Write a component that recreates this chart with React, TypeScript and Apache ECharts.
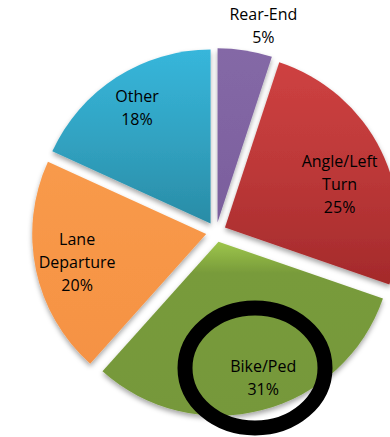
import React, { useEffect, useRef } from "react";
import * as echarts from "echarts";

const categories = ["Rear-End", "Angle/Left Turn", "Bike/Ped", "Lane Departure", "Other"];
const values = [5, 25, 31, 20, 18];

const gradients: [string, string, string][] = [
  ["#8468A6", "#8064A2", "#7A5E9C"],
  ["#CE4141", "#BC3838", "#A42A2B"],
  ["#9EC64C", "#789B3A", "#76983A"],
  ["#F89A4C", "#F79646", "#F59244"],
  ["#37B6DB", "#31A3C2", "#2A8CA6"],
];
const labelOffsets: [number, number][] = [
  [23, -58],
  [-10, 20],
  [9, 4],
  [5, 2],
  [0, 2],
];

export default function App() {
  const ref = useRef<HTMLDivElement>(null);
  useEffect(() => {
    const chart = echarts.init(ref.current!, null, { renderer: "svg" });
    chart.setOption({
      animation: false,
      backgroundColor: "#ffffff",
      series: [
        {
          type: "pie",
          center: [216, 232],
          radius: [0, 174],
          startAngle: 90,
          clockwise: true,
          selectedMode: "multiple",
          selectedOffset: 10,
          silent: true,
          label: { show: false },
          labelLine: { show: false },
          emphasis: { disabled: true },
          data: categories.map((name, i) => ({
            name,
            value: values[i],
            selected: true,
            itemStyle: {
              color: new echarts.graphic.LinearGradient(0, 0, 0, 1, [
                { offset: 0, color: gradients[i][0] },
                { offset: i === 2 ? 0.18 : 0.5, color: gradients[i][1] },
                { offset: 1, color: gradients[i][2] },
              ]),
              shadowBlur: 5,
              shadowOffsetY: 3,
              shadowColor: "rgba(0,0,0,0.35)",
            },
          })),
        },
        {
          type: "pie",
          center: [217, 230],
          radius: [0, 290],
          startAngle: 90,
          clockwise: true,
          silent: true,
          z: 5,
          labelLine: { show: false },
          emphasis: { disabled: true },
          itemStyle: { color: "rgba(0,0,0,0)" },
          label: {
            show: true,
            position: "inside",
            fontFamily: "Open Sans",
            fontSize: 16,
            lineHeight: 23,
            color: "#000",
            formatter: (p: any) => `${String(p.name).replace(" ", "\n")}\n${p.value}%`,
          },
          data: categories.map((name, i) => ({
            name,
            value: values[i],
            label: { offset: labelOffsets[i] },
          })),
        },
      ],
      graphic: [
        {
          type: "ellipse",
          shape: { cx: 255, cy: 368, rx: 70, ry: 60 },
          style: { fill: "none", stroke: "#000", lineWidth: 15 },
          z: 100,
        },
      ],
    });
    return () => chart.dispose();
  }, []);
  return (
    <div
      ref={ref}
      style={{ position: "absolute", left: 0, top: 0, width: 390, height: 437 }}
    />
  );
}
